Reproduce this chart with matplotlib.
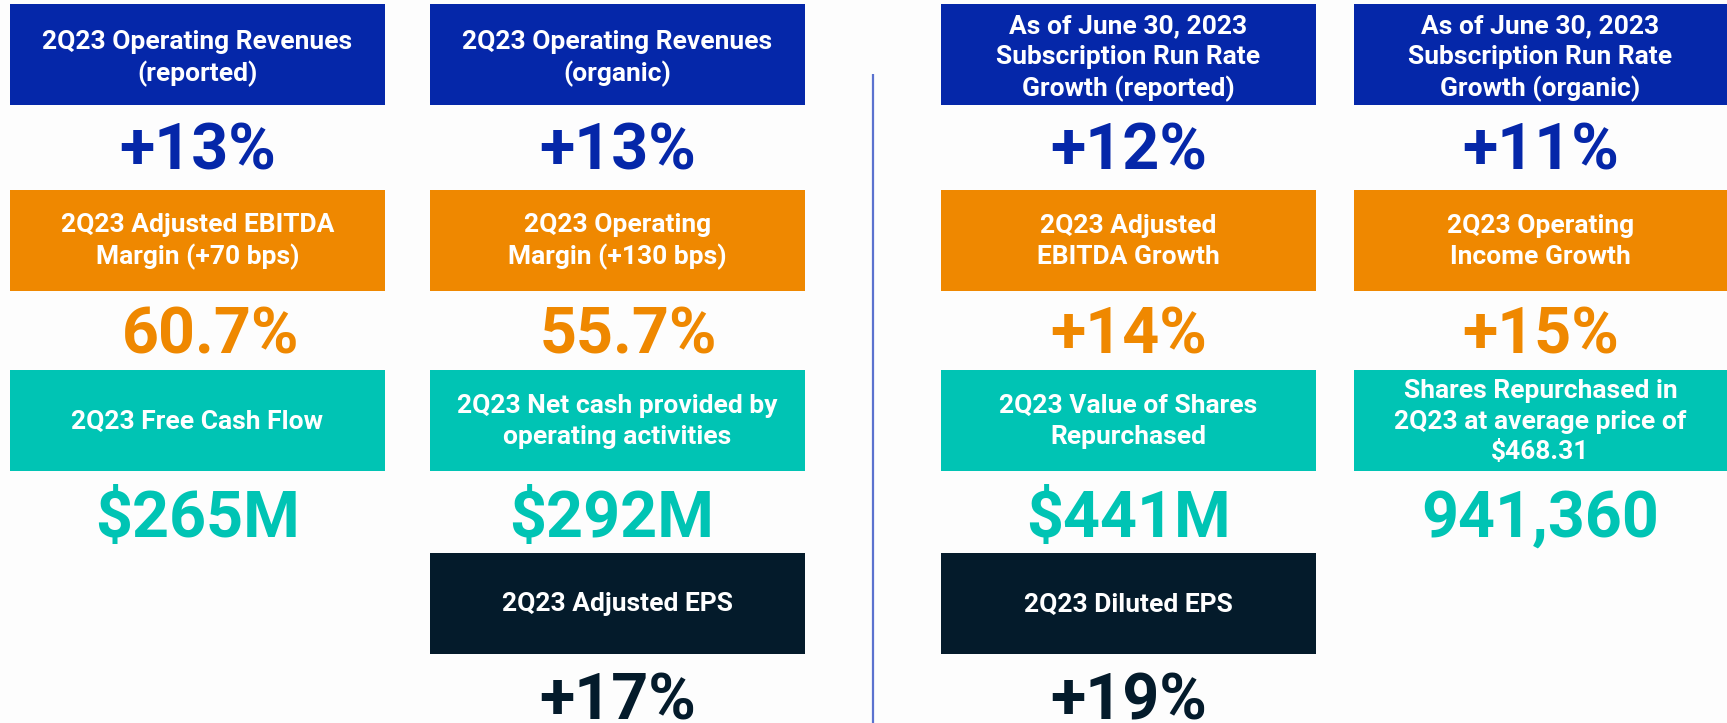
import matplotlib
matplotlib.use("Agg")
import matplotlib.pyplot as plt
from matplotlib.patches import Rectangle

plt.rcParams['font.family'] = ['Roboto', 'DejaVu Sans']

# ---- data ----
col1_labels = ["2Q23 Operating Revenues\n(reported)",
               "2Q23 Adjusted EBITDA\nMargin (+70 bps)",
               "2Q23 Free Cash Flow"]
col1_values = ["+13%", "60.7%", "$265M"]

col2_labels = ["2Q23 Operating Revenues\n(organic)",
               "2Q23 Operating\nMargin (+130 bps)",
               "2Q23 Net cash provided by\noperating activities",
               "2Q23 Adjusted EPS"]
col2_values = ["+13%", "55.7%", "$292M", "+17%"]

col3_labels = ["As of June 30, 2023\nSubscription Run Rate\nGrowth (reported)",
               "2Q23 Adjusted\nEBITDA Growth",
               "2Q23 Value of Shares\nRepurchased",
               "2Q23 Diluted EPS"]
col3_values = ["+12%", "+14%", "$441M", "+19%"]

col4_labels = ["As of June 30, 2023\nSubscription Run Rate\nGrowth (organic)",
               "2Q23 Operating\nIncome Growth",
               "Shares Repurchased in\n2Q23 at average price of\n$468.31"]
col4_values = ["+11%", "+15%", "941,360"]

# ---- style / layout ----
row_colors = ["#0527A9", "#EF8800", "#00C4B4", "#041B2B"]
W, H = 1727, 723
col_left = [10, 430, 941, 1354]
col_width = [375, 375, 375, 373]
row_top = [4, 190, 370, 553]
box_h = 101
label_dy = [4, 1, 1, 1]
value_baseline = [170, 354, 537, 720]
# small horizontal nudges of some value texts (col, row) -> px
value_dx = {(0, 1): 13, (1, 1): 11, (1, 2): -6}

fig = plt.figure(figsize=(W / 100, H / 100), dpi=100)
fig.patch.set_facecolor("#FDFDFD")
ax = fig.add_axes([0, 0, 1, 1])
ax.set_xlim(0, W)
ax.set_ylim(H, 0)
ax.axis("off")

columns = [(col1_labels, col1_values), (col2_labels, col2_values),
           (col3_labels, col3_values), (col4_labels, col4_values)]

for ci, (labels, values) in enumerate(columns):
    x0 = col_left[ci]
    w = col_width[ci]
    cx = x0 + w / 2
    for ri, (lab, val) in enumerate(zip(labels, values)):
        color = row_colors[ri]
        y0 = row_top[ri]
        ax.add_patch(Rectangle((x0, y0), w, box_h, facecolor=color,
                               edgecolor="none"))
        ax.text(cx, y0 + box_h / 2 + label_dy[ri], lab, ha="center",
                va="center", multialignment="center", color="white",
                fontsize=19, fontweight="bold", linespacing=1.34)
        ax.text(cx + value_dx.get((ci, ri), 0), value_baseline[ri], val,
                ha="center", va="baseline",
                color=color, fontsize=46.5, fontweight="bold")

# divider line
ax.plot([873, 873], [74, H], color="#5B72CF", lw=1.6, solid_capstyle="butt")

fig.savefig("out.png", dpi=100, facecolor=fig.get_facecolor())
